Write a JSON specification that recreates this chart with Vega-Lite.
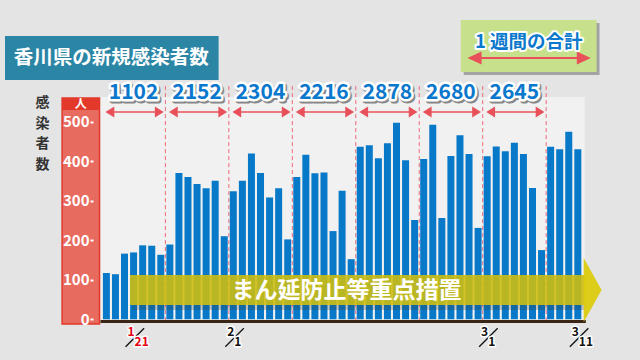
{
  "$schema": "https://vega.github.io/schema/vega-lite/v6.json",
  "width": 640,
  "height": 360,
  "autosize": {"type": "none"},
  "padding": 0,
  "background": "#e4e4e4",
  "config": {
    "view": {"stroke": null},
    "font": "Noto Sans CJK JP",
    "axisX": {"disable": true}
  },
  "datasets": {
    "daily": [
      {"date": "1/18", "day": 0, "cases": 117}, {"date": "1/19", "day": 1, "cases": 114}, {"date": "1/20", "day": 2, "cases": 166},
      {"date": "1/21", "day": 3, "cases": 169}, {"date": "1/22", "day": 4, "cases": 187}, {"date": "1/23", "day": 5, "cases": 186},
      {"date": "1/24", "day": 6, "cases": 163}, {"date": "1/25", "day": 7, "cases": 189}, {"date": "1/26", "day": 8, "cases": 370},
      {"date": "1/27", "day": 9, "cases": 360}, {"date": "1/28", "day": 10, "cases": 342}, {"date": "1/29", "day": 11, "cases": 331},
      {"date": "1/30", "day": 12, "cases": 350}, {"date": "1/31", "day": 13, "cases": 210}, {"date": "2/1", "day": 14, "cases": 324},
      {"date": "2/2", "day": 15, "cases": 350}, {"date": "2/3", "day": 16, "cases": 419}, {"date": "2/4", "day": 17, "cases": 370},
      {"date": "2/5", "day": 18, "cases": 308}, {"date": "2/6", "day": 19, "cases": 331}, {"date": "2/7", "day": 20, "cases": 202},
      {"date": "2/8", "day": 21, "cases": 360}, {"date": "2/9", "day": 22, "cases": 416}, {"date": "2/10", "day": 23, "cases": 369},
      {"date": "2/11", "day": 24, "cases": 371}, {"date": "2/12", "day": 25, "cases": 223}, {"date": "2/13", "day": 26, "cases": 325},
      {"date": "2/14", "day": 27, "cases": 152}, {"date": "2/15", "day": 28, "cases": 436}, {"date": "2/16", "day": 29, "cases": 440},
      {"date": "2/17", "day": 30, "cases": 407}, {"date": "2/18", "day": 31, "cases": 445}, {"date": "2/19", "day": 32, "cases": 497},
      {"date": "2/20", "day": 33, "cases": 402}, {"date": "2/21", "day": 34, "cases": 251}, {"date": "2/22", "day": 35, "cases": 405},
      {"date": "2/23", "day": 36, "cases": 492}, {"date": "2/24", "day": 37, "cases": 256}, {"date": "2/25", "day": 38, "cases": 413},
      {"date": "2/26", "day": 39, "cases": 465}, {"date": "2/27", "day": 40, "cases": 418}, {"date": "2/28", "day": 41, "cases": 231},
      {"date": "3/1", "day": 42, "cases": 412}, {"date": "3/2", "day": 43, "cases": 437}, {"date": "3/3", "day": 44, "cases": 425},
      {"date": "3/4", "day": 45, "cases": 446}, {"date": "3/5", "day": 46, "cases": 418}, {"date": "3/6", "day": 47, "cases": 332},
      {"date": "3/7", "day": 48, "cases": 175}, {"date": "3/8", "day": 49, "cases": 436}, {"date": "3/9", "day": 50, "cases": 430},
      {"date": "3/10", "day": 51, "cases": 474}, {"date": "3/11", "day": 52, "cases": 430}
    ],
    "weekly": [
      {"start": 0, "end": 6, "mid": 3, "total": 1102},
      {"start": 7, "end": 13, "mid": 10, "total": 2152},
      {"start": 14, "end": 20, "mid": 17, "total": 2304},
      {"start": 21, "end": 27, "mid": 24, "total": 2216},
      {"start": 28, "end": 34, "mid": 31, "total": 2878},
      {"start": 35, "end": 41, "mid": 38, "total": 2680},
      {"start": 42, "end": 48, "mid": 45, "total": 2645}
    ],
    "ticks": [
      {"day": 3, "num": "1", "den": "21"},
      {"day": 14, "num": "2", "den": "1"},
      {"day": 42, "num": "3", "den": "1"},
      {"day": 52, "num": "3", "den": "11"}
    ],
    "one": [{}]
  },
  "layer": [
    {
      "data": {"name": "one"},
      "mark": {"type": "rect", "color": "#f1f1f1"},
      "encoding": {
        "x": {"datum": -0.651, "type": "quantitative"},
        "x2": {"datum": 52.769},
        "y": {"datum": 561.9, "type": "quantitative"},
        "y2": {"datum": -1.77}
      }
    },
    {
      "data": {"name": "weekly"},
      "mark": {"type": "rule", "color": "#ee6a78", "strokeWidth": 1, "strokeDash": [4, 3], "xOffset": 4.6, "x2Offset": 4.6},
      "encoding": {
        "x": {"field": "end", "type": "quantitative"},
        "y": {"datum": 589.5, "type": "quantitative"},
        "y2": {"datum": -1.77}
      }
    },
    {
      "data": {"name": "daily"},
      "mark": {"type": "bar", "color": "#0879c8", "size": 7},
      "encoding": {
        "x": {"field": "day", "type": "quantitative", "scale": {"domain": [-11.1835, 58.306], "nice": false, "zero": false}},
        "y": {
          "field": "cases", "type": "quantitative",
          "scale": {"domain": [-102.88, 807.13], "nice": false, "zero": false},
          "axis": {
            "title": null, "values": [0, 100, 200, 300, 400, 500], "offset": -93, "domain": false, "grid": false,
            "tickSize": 3, "tickWidth": 2, "tickColor": "#ffffff", "labelPadding": 1,
            "labelColor": "#ffffff", "labelFontSize": 15, "labelFontWeight": "bold", "labelFont": "Noto Sans CJK JP",
            "labelOverlap": false, "labelBound": false, "zindex": 5
          }
        },
        "y2": {"datum": 0}
      }
    },
    {
      "data": {"name": "one"},
      "mark": {"type": "rect", "color": "#e86b60", "stroke": "#e2392a", "strokeWidth": 1.5},
      "encoding": {
        "x": {"datum": -4.886, "type": "quantitative"},
        "x2": {"datum": -0.76},
        "y": {"datum": 559.4, "type": "quantitative"},
        "y2": {"datum": -11.9}
      }
    },
    {
      "data": {"name": "one"},
      "mark": {"type": "rect", "color": "#e2392a"},
      "encoding": {
        "x": {"datum": -4.886, "type": "quantitative"},
        "x2": {"datum": -0.76},
        "y": {"datum": 559.4, "type": "quantitative"},
        "y2": {"datum": 529.1}
      }
    },
    {
      "data": {"name": "one"},
      "mark": {"type": "text", "text": "人", "color": "#ffffff", "fontSize": 12, "fontWeight": "bold", "baseline": "middle"},
      "encoding": {
        "x": {"datum": -2.823, "type": "quantitative"},
        "y": {"datum": 544.2, "type": "quantitative"}
      }
    },
    {
      "data": {"name": "one"},
      "mark": {"type": "text", "text": "感", "color": "#333333", "fontSize": 14, "fontWeight": "bold", "baseline": "middle"},
      "encoding": {"x": {"datum": -7.057, "type": "quantitative"}, "y": {"datum": 546.1, "type": "quantitative"}}
    },
    {
      "data": {"name": "one"},
      "mark": {"type": "text", "text": "染", "color": "#333333", "fontSize": 14, "fontWeight": "bold", "baseline": "middle"},
      "encoding": {"x": {"datum": -7.057, "type": "quantitative"}, "y": {"datum": 494.3, "type": "quantitative"}}
    },
    {
      "data": {"name": "one"},
      "mark": {"type": "text", "text": "者", "color": "#333333", "fontSize": 14, "fontWeight": "bold", "baseline": "middle"},
      "encoding": {"x": {"datum": -7.057, "type": "quantitative"}, "y": {"datum": 442.5, "type": "quantitative"}}
    },
    {
      "data": {"name": "one"},
      "mark": {"type": "text", "text": "数", "color": "#333333", "fontSize": 14, "fontWeight": "bold", "baseline": "middle"},
      "encoding": {"x": {"datum": -7.057, "type": "quantitative"}, "y": {"datum": 390.7, "type": "quantitative"}}
    },
    {
      "data": {"name": "one"},
      "mark": {"type": "rule", "color": "#3a2415", "strokeWidth": 3},
      "encoding": {
        "x": {"datum": -0.651, "type": "quantitative"},
        "x2": {"datum": 52.88},
        "y": {"datum": -5.6, "type": "quantitative"}
      }
    },
    {
      "data": {"name": "one"},
      "mark": {"type": "rect", "color": "#333333", "opacity": 0.25},
      "encoding": {
        "x": {"datum": 2.82, "type": "quantitative"},
        "x2": {"datum": 52.88},
        "y": {"datum": 36.1, "type": "quantitative"},
        "y2": {"datum": 23.5}
      }
    },
    {
      "data": {"name": "one"},
      "mark": {"type": "rect", "color": "#cdbd12", "opacity": 0.9},
      "encoding": {
        "x": {"datum": 2.606, "type": "quantitative"},
        "x2": {"datum": 52.88},
        "y": {"datum": 112.0, "type": "quantitative"},
        "y2": {"datum": 36.1}
      }
    },
    {
      "data": {"name": "one"},
      "mark": {"type": "point", "shape": "M-0.28,-1L0.28,0L-0.28,1Z", "size": 4096, "filled": true, "color": "#dccb10", "opacity": 0.95},
      "encoding": {
        "x": {"datum": 53.637, "type": "quantitative"},
        "y": {"datum": 74.07, "type": "quantitative"}
      }
    },
    {
      "data": {"name": "one"},
      "mark": {"type": "text", "text": "まん延防止等重点措置", "color": "#ffffff", "fontSize": 23, "fontWeight": "bold", "baseline": "middle"},
      "encoding": {
        "x": {"datum": 26.49, "type": "quantitative"},
        "y": {"datum": 71.5, "type": "quantitative"}
      }
    },
    {
      "data": {"name": "weekly"},
      "mark": {"type": "rule", "color": "#e8505a", "strokeWidth": 1.5, "xOffset": 1, "x2Offset": 0},
      "encoding": {
        "x": {"field": "start", "type": "quantitative"},
        "x2": {"field": "end"},
        "y": {"datum": 524.0, "type": "quantitative"}
      }
    },
    {
      "data": {"name": "weekly"},
      "mark": {"type": "point", "shape": "M0.8,-1L-0.8,0L0.8,1Z", "size": 121, "filled": true, "color": "#e8505a", "opacity": 1, "xOffset": 3.5},
      "encoding": {
        "x": {"field": "start", "type": "quantitative"},
        "y": {"datum": 524.0, "type": "quantitative"}
      }
    },
    {
      "data": {"name": "weekly"},
      "mark": {"type": "point", "shape": "M-0.8,-1L0.8,0L-0.8,1Z", "size": 121, "filled": true, "color": "#e8505a", "opacity": 1, "xOffset": -1.5},
      "encoding": {
        "x": {"field": "end", "type": "quantitative"},
        "y": {"datum": 524.0, "type": "quantitative"}
      }
    },
    {
      "data": {"name": "weekly"},
      "mark": {"type": "text", "fontSize": 21, "fontWeight": "bold", "baseline": "middle", "color": "#888888", "stroke": "#888888", "strokeWidth": 5, "strokeJoin": "round", "dx": 1.5, "dy": 1.5},
      "encoding": {
        "x": {"field": "mid", "type": "quantitative"},
        "y": {"datum": 572.0, "type": "quantitative"},
        "text": {"field": "total"}
      }
    },
    {
      "data": {"name": "weekly"},
      "mark": {"type": "text", "fontSize": 21, "fontWeight": "bold", "baseline": "middle", "color": "#ffffff", "stroke": "#ffffff", "strokeWidth": 5, "strokeJoin": "round"},
      "encoding": {
        "x": {"field": "mid", "type": "quantitative"},
        "y": {"datum": 572.0, "type": "quantitative"},
        "text": {"field": "total"}
      }
    },
    {
      "data": {"name": "weekly"},
      "mark": {"type": "text", "fontSize": 21, "fontWeight": "bold", "baseline": "middle", "color": "#0a78cc"},
      "encoding": {
        "x": {"field": "mid", "type": "quantitative"},
        "y": {"datum": 572.0, "type": "quantitative"},
        "text": {"field": "total"}
      }
    },
    {
      "data": {"name": "ticks"},
      "mark": {"type": "rule", "color": "#111111", "strokeWidth": 1.3, "xOffset": -8, "x2Offset": 10.5},
      "encoding": {
        "x": {"field": "day", "type": "quantitative"},
        "x2": {"field": "day"},
        "y": {"datum": -69.26, "type": "quantitative"},
        "y2": {"datum": -22.75}
      }
    },
    {
      "data": {"name": "ticks"},
      "mark": {"type": "text", "fontSize": 12, "fontWeight": "bold", "baseline": "middle", "align": "center", "dx": -2.5, "color": "#ffffff", "stroke": "#ffffff", "strokeWidth": 3, "strokeJoin": "round"},
      "encoding": {
        "x": {"field": "day", "type": "quantitative"},
        "y": {"datum": -30.84, "type": "quantitative"},
        "text": {"field": "num"}
      }
    },
    {
      "data": {"name": "ticks"},
      "mark": {"type": "text", "fontSize": 12, "fontWeight": "bold", "baseline": "middle", "align": "left", "dx": 1, "color": "#ffffff", "stroke": "#ffffff", "strokeWidth": 3, "strokeJoin": "round"},
      "encoding": {
        "x": {"field": "day", "type": "quantitative"},
        "y": {"datum": -57.38, "type": "quantitative"},
        "text": {"field": "den"}
      }
    },
    {
      "data": {"name": "ticks"},
      "mark": {"type": "text", "fontSize": 12, "fontWeight": "bold", "baseline": "middle", "align": "center", "dx": -2.5},
      "encoding": {
        "x": {"field": "day", "type": "quantitative"},
        "y": {"datum": -30.84, "type": "quantitative"},
        "text": {"field": "num"},
        "color": {"condition": {"test": "datum.day == 3", "value": "#e60012"}, "value": "#111111"}
      }
    },
    {
      "data": {"name": "ticks"},
      "mark": {"type": "text", "fontSize": 12, "fontWeight": "bold", "baseline": "middle", "align": "left", "dx": 1},
      "encoding": {
        "x": {"field": "day", "type": "quantitative"},
        "y": {"datum": -57.38, "type": "quantitative"},
        "text": {"field": "den"},
        "color": {"condition": {"test": "datum.day == 3", "value": "#e60012"}, "value": "#111111"}
      }
    },
    {
      "data": {"name": "one"},
      "mark": {"type": "rect", "color": "#2b86a6"},
      "encoding": {
        "x": {"datum": -11.1835, "type": "quantitative"},
        "x2": {"datum": 12.378},
        "y": {"datum": 716.1, "type": "quantitative"},
        "y2": {"datum": 604.9}
      }
    },
    {
      "data": {"name": "one"},
      "mark": {"type": "text", "text": "香川県の新規感染者数", "color": "#ffffff", "fontSize": 19.5, "fontWeight": "bold", "baseline": "middle"},
      "encoding": {
        "x": {"datum": 0.543, "type": "quantitative"},
        "y": {"datum": 660.5, "type": "quantitative"}
      }
    },
    {
      "data": {"name": "one"},
      "mark": {"type": "rect", "color": "#555555", "opacity": 0.45},
      "encoding": {
        "x": {"datum": 39.414, "type": "quantitative"},
        "x2": {"datum": 54.397},
        "y": {"datum": 749.0, "type": "quantitative"},
        "y2": {"datum": 617.5}
      }
    },
    {
      "data": {"name": "one"},
      "mark": {"type": "rect", "color": "#c6e08b"},
      "encoding": {
        "x": {"datum": 39.088, "type": "quantitative"},
        "x2": {"datum": 54.072},
        "y": {"datum": 756.6, "type": "quantitative"},
        "y2": {"datum": 625.1}
      }
    },
    {
      "data": {"name": "one"},
      "mark": {"type": "rule", "color": "#e8505a", "strokeWidth": 2},
      "encoding": {
        "x": {"datum": 40.608, "type": "quantitative"},
        "x2": {"datum": 52.66},
        "y": {"datum": 660.5, "type": "quantitative"}
      }
    },
    {
      "data": {"name": "one"},
      "mark": {"type": "point", "shape": "M1,-0.93L-1,0L1,0.93Z", "size": 196, "filled": true, "color": "#e8505a", "opacity": 1},
      "encoding": {
        "x": {"datum": 40.608, "type": "quantitative"},
        "y": {"datum": 660.5, "type": "quantitative"}
      }
    },
    {
      "data": {"name": "one"},
      "mark": {"type": "point", "shape": "M-1,-0.93L1,0L-1,0.93Z", "size": 196, "filled": true, "color": "#e8505a", "opacity": 1},
      "encoding": {
        "x": {"datum": 52.66, "type": "quantitative"},
        "y": {"datum": 660.5, "type": "quantitative"}
      }
    },
    {
      "data": {"name": "one"},
      "mark": {"type": "text", "text": "1 週間の合計", "color": "#ffffff", "stroke": "#ffffff", "strokeWidth": 4, "strokeJoin": "round", "fontSize": 18.5, "fontWeight": "bold", "baseline": "middle"},
      "encoding": {
        "x": {"datum": 46.58, "type": "quantitative"},
        "y": {"datum": 700.9, "type": "quantitative"}
      }
    },
    {
      "data": {"name": "one"},
      "mark": {"type": "text", "text": "1 週間の合計", "color": "#0a78cc", "fontSize": 18.5, "fontWeight": "bold", "baseline": "middle"},
      "encoding": {
        "x": {"datum": 46.58, "type": "quantitative"},
        "y": {"datum": 700.9, "type": "quantitative"}
      }
    }
  ]
}
